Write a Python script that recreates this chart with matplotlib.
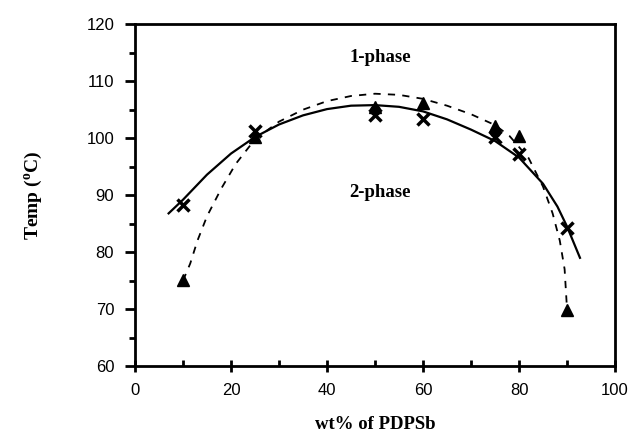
import numpy as np
import matplotlib.pyplot as plt

plt.rcParams['mathtext.fontset'] = 'custom'
plt.rcParams['mathtext.rm'] = 'Liberation Serif:bold'
plt.rcParams['mathtext.bf'] = 'Liberation Serif:bold'

# measured cloud points
wt_x = [10, 25, 50, 60, 75, 80, 90]
temp_x = [88.2, 101.2, 104.0, 103.4, 100.2, 97.3, 84.2]

wt_tri = [10, 25, 50, 60, 75, 80, 90]
temp_tri = [75.1, 100.2, 105.4, 106.1, 102.2, 100.4, 69.8]

wt_dot = [50, 75]
temp_dot = [104.9, 101.1]

# fitted binodal curves
fit_solid_x = [7, 10, 15, 20, 25, 30, 35, 40, 45, 50, 55, 60, 65, 70, 75, 80, 85, 88, 90, 92.7]
fit_solid_y = [86.8, 89.2, 93.6, 97.3, 100.2, 102.4, 104.0, 105.1, 105.7, 105.8,
               105.5, 104.7, 103.3, 101.5, 99.5, 96.6, 92.0, 88.0, 84.5, 79.0]

fit_dash_x = [10, 11.5, 13, 15, 18, 21, 25, 30, 35, 40, 45, 50, 55, 60, 65, 70,
              75, 78, 82, 85, 87, 88.5, 89.5, 90]
fit_dash_y = [75, 78, 82, 86.3, 91.2, 95.5, 99.8, 102.9, 105, 106.5, 107.4, 107.8,
              107.6, 106.9, 105.7, 104.2, 102.3, 100.4, 96.5, 91.5, 86.8, 82, 77, 70]

fig = plt.figure(figsize=(6.36, 4.4), dpi=100)
ax = fig.add_axes([0.2123, 0.168, 0.7547, 0.777])

ax.plot(fit_solid_x, fit_solid_y, color='black', lw=1.6)
ax.plot(fit_dash_x, fit_dash_y, color='black', lw=1.3, dashes=(4, 4))

ax.plot(wt_dot, temp_dot, 'o', color='black', ms=7)
ax.plot(wt_tri, temp_tri, '^', color='black', ms=9)
ax.plot(wt_x, temp_x, 'x', color='black', ms=8, mew=2.5)

ax.set_xlim(0, 100)
ax.set_ylim(60, 120)
ax.set_xticks(np.arange(0, 101, 20))
ax.set_xticks(np.arange(10, 100, 20), minor=True)
ax.set_yticks(np.arange(60, 121, 10))
ax.set_yticks(np.arange(65, 120, 10), minor=True)

for s in ax.spines.values():
    s.set_linewidth(2)

ax.tick_params(axis='x', which='major', direction='inout', length=8, width=2,
               labelsize=12, pad=8)
ax.tick_params(axis='x', which='minor', direction='in', length=4, width=2)
ax.tick_params(axis='y', which='major', direction='out', length=7, width=2,
               labelsize=12, pad=8)
ax.tick_params(axis='y', which='minor', direction='out', length=4, width=2)
for lab in ax.get_xticklabels() + ax.get_yticklabels():
    lab.set_family('Liberation Sans')

ax.text(51, 114.2, '1-phase', ha='center', va='center',
        family='Liberation Serif', weight='bold', fontsize=13.5)
ax.text(51, 90.4, '2-phase', ha='center', va='center',
        family='Liberation Serif', weight='bold', fontsize=13.5)

ax.set_xlabel('wt% of PDPSb', family='Liberation Serif', weight='bold',
              fontsize=13.5, labelpad=13)
ax.set_ylabel(r'Temp ($^{\mathbf{o}}$C)', family='Liberation Serif', weight='bold',
              fontsize=14, labelpad=30)

fig.savefig('out.png', dpi=100)
